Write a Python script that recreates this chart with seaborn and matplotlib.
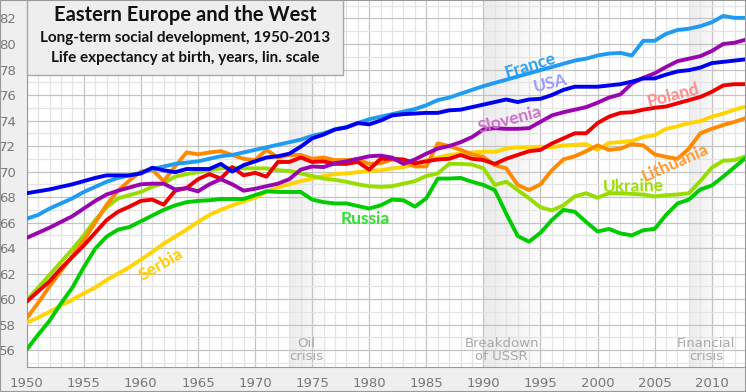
import pandas as pd
import seaborn as sns
import matplotlib.pyplot as plt
from matplotlib.patches import Rectangle
from matplotlib.ticker import MultipleLocator

# Life expectancy at birth
years = list(range(1950, 2014))

france = [66.3, 66.6, 67.1, 67.5, 67.9, 68.4, 68.8, 69.2, 69.5, 69.7,
          69.9, 70.2, 70.4, 70.6, 70.7, 70.8, 71.0, 71.2, 71.3, 71.5,
          71.7, 71.9, 72.1, 72.3, 72.5, 72.8, 73.0, 73.3, 73.5, 73.8,
          74.1, 74.3, 74.5, 74.7, 74.9, 75.2, 75.6, 75.8, 76.1, 76.4,
          76.7, 76.95, 77.2, 77.45, 77.7, 77.95, 78.2, 78.45, 78.7, 78.85,
          79.1, 79.25, 79.3, 79.1, 80.25, 80.25, 80.8, 81.1, 81.2, 81.4,
          81.7, 82.2, 82.05, 82.05]
usa = [68.3, 68.45, 68.6, 68.8, 69.0, 69.25, 69.5, 69.7, 69.7, 69.7,
       69.85, 70.3, 70.1, 69.95, 70.2, 70.2, 70.2, 70.6, 70.0, 70.5,
       70.8, 71.1, 71.2, 71.4, 71.95, 72.6, 72.9, 73.3, 73.45, 73.8,
       73.7, 74.0, 74.4, 74.5, 74.55, 74.6, 74.6, 74.8, 74.85, 75.05,
       75.25, 75.45, 75.65, 75.45, 75.65, 75.7, 76.0, 76.4, 76.65, 76.65,
       76.65, 76.75, 76.85, 77.05, 77.3, 77.3, 77.6, 77.85, 77.95, 78.15,
       78.5, 78.6, 78.7, 78.8]
slovenia = [64.8, 65.2, 65.6, 66.05, 66.5, 67.1, 67.7, 68.2, 68.5, 68.75,
            69.0, 69.05, 69.05, 68.6, 68.7, 68.45, 69.0, 69.4, 69.0, 68.5,
            68.65, 68.85, 69.05, 69.4, 70.15, 70.4, 70.35, 70.65, 70.8, 71.0,
            71.2, 71.25, 71.1, 70.6, 70.95, 71.4, 71.8, 72.0, 72.3, 72.7,
            73.3, 73.4, 73.35, 73.35, 73.4, 73.9, 74.4, 74.65, 74.85, 75.05,
            75.4, 75.8, 76.05, 76.9, 77.35, 77.7, 78.2, 78.65, 78.85, 79.05,
            79.45, 80.0, 80.1, 80.35]
poland = [59.8, 60.6, 61.4, 62.4, 63.3, 64.2, 65.2, 66.2, 66.85, 67.25,
          67.7, 67.8, 67.4, 68.5, 68.7, 69.4, 69.8, 69.45, 70.35, 69.7,
          69.9, 69.6, 70.75, 70.75, 71.1, 70.75, 70.8, 70.6, 70.6, 70.75,
          70.15, 71.0, 71.0, 70.95, 70.65, 70.8, 70.95, 71.0, 71.3, 71.0,
          70.9, 70.6, 71.0, 71.3, 71.6, 71.7, 72.2, 72.6, 73.0, 73.0,
          73.8, 74.3, 74.6, 74.65, 74.85, 75.0, 75.1, 75.35, 75.6, 75.85,
          76.25, 76.75, 76.85, 76.85]
serbia = [58.15, 58.55, 59.0, 59.5, 59.95, 60.45, 60.9, 61.5, 62.0, 62.5,
          63.1, 63.7, 64.35, 64.9, 65.45, 66.05, 66.6, 67.0, 67.35, 67.65,
          67.95, 68.4, 68.75, 69.0, 69.25, 69.45, 69.65, 69.8, 69.85, 69.95,
          70.05, 70.1, 70.25, 70.35, 70.55, 70.9, 71.1, 71.3, 71.4, 71.5,
          71.55, 71.55, 71.8, 71.9, 71.9, 71.95, 71.9, 72.05, 72.1, 72.15,
          71.7, 72.25, 72.3, 72.4, 72.7, 72.85, 73.35, 73.55, 73.8, 73.95,
          74.3, 74.55, 74.85, 75.1]
lithuania = [58.5, 59.7, 61.0, 62.2, 63.4, 64.6, 66.0, 67.4, 68.5, 69.3,
             70.0, 70.15, 69.25, 70.4, 71.5, 71.35, 71.5, 71.6, 71.3, 71.0,
             70.9, 71.7, 71.1, 71.3, 71.3, 71.0, 71.1, 70.9, 70.9, 70.95,
             70.6, 70.65, 70.95, 70.75, 70.4, 70.4, 72.2, 72.0, 71.7, 71.35,
             71.15, 70.5, 70.25, 68.95, 68.55, 69.0, 70.1, 70.95, 71.2, 71.6,
             72.05, 71.7, 71.8, 72.15, 72.05, 71.35, 71.15, 71.0, 71.8, 73.0,
             73.35, 73.65, 73.9, 74.2]
ukraine = [59.9, 60.9, 61.9, 62.9, 63.9, 65.0, 66.2, 67.2, 67.9, 68.15,
           68.4, 68.8, 69.1, 69.6, 69.8, 69.95, 70.1, 70.25, 70.3, 70.25,
           70.25, 70.25, 70.1, 70.05, 69.85, 69.65, 69.45, 69.35, 69.2, 69.0,
           68.85, 68.8, 68.85, 69.05, 69.25, 69.65, 69.85, 70.6, 70.6, 70.55,
           70.25, 68.95, 69.2, 68.55, 67.9, 67.2, 66.95, 67.35, 68.05, 68.3,
           67.95, 68.3, 68.3, 68.25, 68.2, 68.05, 68.15, 68.2, 68.3, 69.25,
           70.3, 70.85, 70.9, 71.2]
russia = [56.05, 57.2, 58.3, 59.65, 60.9, 62.5, 63.95, 64.9, 65.45, 65.65,
          66.1, 66.55, 67.0, 67.35, 67.6, 67.7, 67.75, 67.85, 67.85, 67.85,
          68.15, 68.45, 68.4, 68.4, 68.4, 67.8, 67.6, 67.5, 67.5, 67.3,
          67.1, 67.35, 67.8, 67.75, 67.25, 67.9, 69.45, 69.45, 69.5, 69.2,
          68.95, 68.55, 66.7, 64.95, 64.5, 65.2, 66.2, 67.0, 66.85, 66.05,
          65.3, 65.5, 65.15, 65.0, 65.4, 65.5, 66.6, 67.5, 67.8, 68.6,
          68.9, 69.6, 70.35, 71.1]

# drawing order: last one ends up on top
countries = ["Serbia", "Ukraine", "Lithuania", "Russia", "Poland",
             "Slovenia", "France", "USA"]
values = {"Serbia": serbia, "Ukraine": ukraine, "Lithuania": lithuania,
          "Russia": russia, "Poland": poland, "Slovenia": slovenia,
          "France": france, "USA": usa}

line_colors = {"France": "#1f9bf2", "USA": "#0000ee", "Slovenia": "#9a05b0",
               "Poland": "#ee0000", "Serbia": "#ffd400", "Lithuania": "#ff8a00",
               "Ukraine": "#98dc00", "Russia": "#00cc00"}
label_colors = {"France": "#2a9ff2", "USA": "#9a9aff", "Slovenia": "#cc70cc",
                "Poland": "#ff8a8a", "Serbia": "#ffcc00", "Lithuania": "#ff9a30",
                "Ukraine": "#99dd00", "Russia": "#33dd33"}
# label placement: (year, value, rotation)
label_pos = {"France": (1994.1, 78.35, 17), "USA": (1995.9, 76.9, 13),
             "Slovenia": (1992.3, 74.1, 15), "Poland": (2006.6, 76.0, 15),
             "Lithuania": (2006.8, 70.7, 24), "Ukraine": (2003.1, 68.85, 1),
             "Russia": (1979.7, 66.3, 0), "Serbia": (1961.8, 62.7, 30)}

crises = [("Oil\ncrisis", 1973, 3.6, 1974.5),
          ("Breakdown\nof USSR", 1990, 6.0, 1991.6),
          ("Financial\ncrisis", 2008, 3.0, 2009.5)]

df = pd.DataFrame({"year": years, **values}).melt(
    id_vars="year", var_name="country", value_name="life_exp")

sns.set_style("white")
plt.rcParams["font.family"] = ["DejaVu Sans"]
label_font = ["Lato", "DejaVu Sans"]

W, H = 746, 392
fig = plt.figure(figsize=(W / 100, H / 100), dpi=100, facecolor="#efefef")
ax = fig.add_axes([26.7 / W, 25.3 / H, 1 - 26.7 / W, 1 - 25.3 / H])
ax.set_facecolor("white")

# crisis bands, fading to the right
for name, start, width, mid in crises:
    n = 24
    for i in range(n):
        ax.axvspan(start + width * i / n, start + width * (i + 1) / n,
                   color="black", alpha=0.075 * (1 - i / n), lw=0, zorder=0.2)

sns.lineplot(data=df, x="year", y="life_exp", hue="country",
             hue_order=countries, palette=line_colors, lw=2.8,
             errorbar=None, legend=False, ax=ax, zorder=3)

ax.set_xlim(1950, 2013)
ax.set_ylim(54.7, 83.45)
ax.xaxis.set_major_locator(MultipleLocator(5))
ax.xaxis.set_minor_locator(MultipleLocator(1))
ax.yaxis.set_major_locator(MultipleLocator(2))
ax.yaxis.set_minor_locator(MultipleLocator(1))
ax.set_axisbelow(True)
ax.grid(which="major", color="#c4c4c4", lw=0.9)
ax.grid(which="minor", color="#e4e4e4", lw=0.9)
ax.tick_params(which="both", labelsize=9.5, labelcolor="#777777",
               color="#999999", direction="out")
ax.tick_params(which="major", length=4)
ax.tick_params(which="minor", length=2)
ax.set_xlabel("")
ax.set_ylabel("")
for side in ["top", "right"]:
    ax.spines[side].set_visible(False)
for side in ["left", "bottom"]:
    ax.spines[side].set_color("#999999")

for name, start, width, mid in crises:
    ax.text(mid, 56.0, name, ha="center", va="center", fontsize=9.5,
            color="#a8a8a8", linespacing=1.0, zorder=4)

for name in countries:
    x, y, rot = label_pos[name]
    ax.text(x, y, name, color=label_colors[name], rotation=rot,
            rotation_mode="anchor", ha="center", va="center",
            fontsize=12.5, fontweight="bold", family=label_font, zorder=5)

# title box
fig.add_artist(Rectangle((27 / W, 1 - 75 / H), 316 / W, 80 / H,
                         transform=fig.transFigure, facecolor="#eeeeee",
                         edgecolor="#a8a8a8", lw=1, zorder=10))
title_lines = [("Eastern Europe and the West", 15, 14.5),
               ("Long-term social development, 1950-2013", 38, 11),
               ("Life expectancy at birth, years, lin. scale", 58, 11)]
for text, ypix, size in title_lines:
    fig.text(185 / W, 1 - ypix / H, text, ha="center", va="center",
             fontsize=size, fontweight="bold", family=label_font,
             color="#111111", zorder=11)

fig.add_artist(Rectangle((0, 0), 1, 1, transform=fig.transFigure,
                         fill=False, edgecolor="#999999", lw=1.5, zorder=12))

fig.savefig("out.png", dpi=100, facecolor=fig.get_facecolor())
